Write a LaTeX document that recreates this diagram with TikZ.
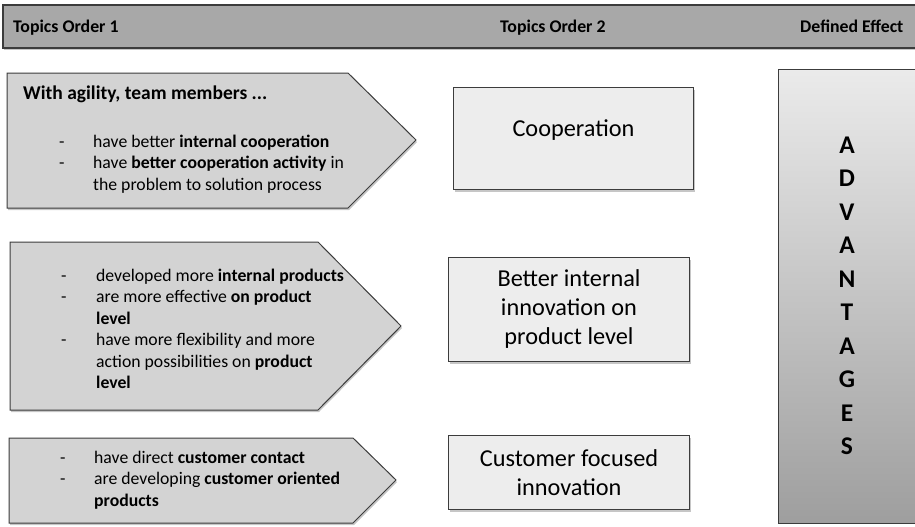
\documentclass[tikz,border=0pt]{standalone}
\usepackage{fontspec}
\setmainfont{Carlito}
\usepackage{tikz}
\usetikzlibrary{positioning,shadows}
\definecolor{framegray}{HTML}{3C3C3C}
\definecolor{bargray}{HTML}{A8A8A8}
\definecolor{arrowgray}{HTML}{D3D3D3}
\definecolor{boxgray}{HTML}{EDEDED}
\tikzset{
  headerbar/.style={draw=framegray,fill=bargray,line width=1.2pt,
    drop shadow={shadow xshift=0.5pt,shadow yshift=-2pt,opacity=0.45}},
  headerlabel/.style={font=\fontsize{17.8}{21}\selectfont\bfseries,anchor=base west,inner sep=0pt},
  topicarrow/.style={draw=framegray,fill=arrowgray,line width=1pt,
    drop shadow={shadow xshift=1pt,shadow yshift=-2pt,opacity=0.45}},
  bulletlist/.style={font=\fontsize{17.7}{21.5}\selectfont,anchor=base west,inner sep=0pt,align=left},
  resultbox/.style={draw=framegray,fill=boxgray,line width=1pt,anchor=north west,
    drop shadow={shadow xshift=1pt,shadow yshift=-2pt,opacity=0.45}},
  resultlabel/.style={font=\fontsize{24.3}{29}\selectfont,align=center,inner sep=0pt},
  effectbox/.style={draw=framegray,line width=1pt,top color=black!8,bottom color=black!38,
    anchor=north west},
  effectletters/.style={font=\fontsize{25.5}{33.5}\selectfont\bfseries,align=center,inner sep=0pt}
}

\begin{document}
\begin{tikzpicture}[x=1pt,y=-1pt]
  \useasboundingbox (0,0) rectangle (915,527);
  % header
  \draw[headerbar] (3,5) rectangle (930,48);
  \node[headerlabel] (order1) at (13,33) {Topics Order 1};
  \node[headerlabel] (order2) at (500,33) {Topics Order 2};
  \node[headerlabel] (effecthead) at (800,33) {Defined Effect};
  % order 1 arrows
  \draw[topicarrow] (7,73) -- (348,73) -- (416,140) -- (348,208) -- (7,208) -- cycle;
  \draw[topicarrow] (10,242) -- (318,242) -- (401,326) -- (318,410) -- (10,410) -- cycle;
  \draw[topicarrow] (9,438) -- (353,438) -- (396,480) -- (353,523) -- (9,523) -- cycle;
  \node[bulletlist,font=\fontsize{19.5}{21.5}\selectfont\bfseries] (agility) at (23,99) {With agility, team members ...};
  \node[bulletlist] (coopitems) at (59,147) {\begin{tabular}[t]{@{}p{34pt}@{}l@{}}
    - & have better \textbf{internal cooperation}\\
    - & have \textbf{better cooperation activity} in\\
      & the problem to solution process
  \end{tabular}};
  \node[bulletlist] (productitems) at (61,281) {\begin{tabular}[t]{@{}p{35pt}@{}l@{}}
    - & developed more \textbf{internal products}\\
    - & are more effective \textbf{on product}\\
      & \textbf{level}\\
    - & have more flexibility and more\\
      & action possibilities on \textbf{product}\\
      & \textbf{level}
  \end{tabular}};
  \node[bulletlist] (customeritems) at (60,463) {\begin{tabular}[t]{@{}p{34pt}@{}l@{}}
    - & have direct \textbf{customer contact}\\
    - & are developing \textbf{customer oriented}\\
      & \textbf{products}
  \end{tabular}};
  % order 2 boxes
  \node[resultbox,minimum width=240,minimum height=102] (coopbox) at (453,87) {};
  \node[resultlabel] (cooperation) at ([yshift=8pt]coopbox.center) {Cooperation};
  \node[resultbox,minimum width=241,minimum height=104] (innovbox) at (448,257) {};
  \node[resultlabel] (innovation) at (innovbox.center) {Better internal\\innovation on\\product level};
  \node[resultbox,minimum width=241,minimum height=74] (custbox) at (448,435) {};
  \node[resultlabel] (customer) at (custbox.center) {Customer focused\\innovation};
  % defined effect
  \node[effectbox,minimum width=160,minimum height=454] (effect) at (778,69) {};
  \node[effectletters] (advantages) at (847,296) {A\\D\\V\\A\\N\\T\\A\\G\\E\\S};
\end{tikzpicture}
\end{document}
